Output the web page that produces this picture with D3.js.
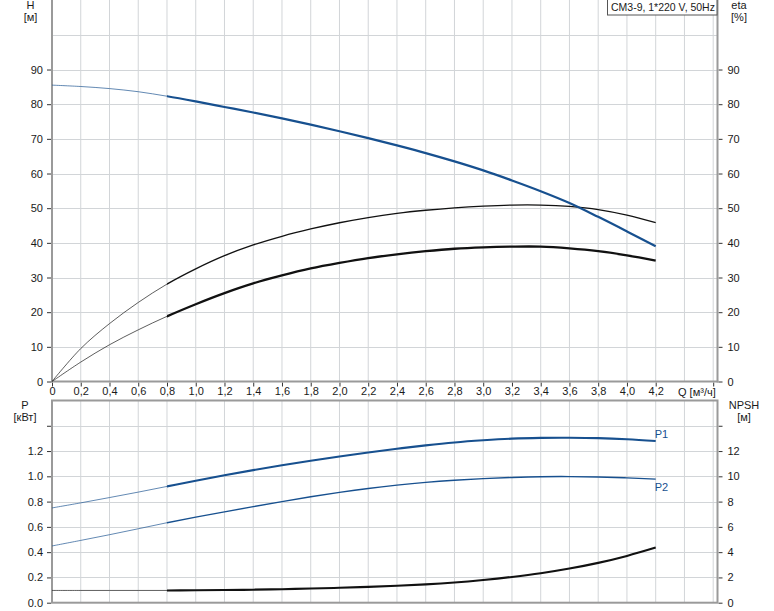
<!DOCTYPE html>
<html>
<head>
<meta charset="utf-8">
<script src="https://cdn.jsdelivr.net/npm/d3@7/dist/d3.min.js"></script>
<style>
  html, body { margin: 0; padding: 0; background: #fff; }
  svg { display: block; }
  text { font-family: "Liberation Sans", Arial, sans-serif; font-size: 11px; fill: #1a1a1a; }
</style>
</head>
<body>
<svg id="chart" width="774" height="611"></svg>
<script>
// ---------------- DATA ----------------
const flow = [0, 0.2, 0.4, 0.6, 0.8, 1.0, 1.2, 1.4, 1.6, 1.8, 2.0, 2.2, 2.4, 2.6, 2.8, 3.0, 3.2, 3.4, 3.6, 3.8, 4.0, 4.2];
const head = [85.5, 85.1, 84.5, 83.6, 82.3, 80.8, 79.2, 77.6, 75.9, 74.1, 72.2, 70.2, 68.1, 65.9, 63.5, 60.9, 58.0, 54.9, 51.5, 47.5, 43.3, 39.0];
const etaHydraulic = [0, 9.5, 16.7, 22.8, 28.1, 32.5, 36.3, 39.4, 41.9, 44.0, 45.8, 47.3, 48.5, 49.4, 50.1, 50.6, 50.9, 50.9, 50.5, 49.6, 48.0, 45.8];
const etaTotal = [0, 5.6, 10.6, 14.9, 18.8, 22.3, 25.5, 28.3, 30.6, 32.6, 34.2, 35.6, 36.7, 37.6, 38.3, 38.7, 38.9, 38.9, 38.4, 37.6, 36.4, 34.9];
const powerP1 = [0.750, 0.790, 0.832, 0.875, 0.920, 0.965, 1.008, 1.049, 1.087, 1.123, 1.157, 1.189, 1.218, 1.245, 1.268, 1.285, 1.298, 1.304, 1.305, 1.302, 1.293, 1.279];
const powerP2 = [0.449, 0.493, 0.538, 0.585, 0.633, 0.677, 0.719, 0.760, 0.800, 0.838, 0.873, 0.904, 0.930, 0.952, 0.969, 0.982, 0.991, 0.997, 0.998, 0.995, 0.988, 0.978];
const npsh = [0.97, 0.97, 0.97, 0.97, 0.97, 0.98, 1.00, 1.03, 1.07, 1.12, 1.18, 1.25, 1.34, 1.45, 1.60, 1.80, 2.04, 2.33, 2.70, 3.15, 3.70, 4.36];
const dutyStart = 0.8;

const qTicks = [0, 0.2, 0.4, 0.6, 0.8, 1.0, 1.2, 1.4, 1.6, 1.8, 2.0, 2.2, 2.4, 2.6, 2.8, 3.0, 3.2, 3.4, 3.6, 3.8, 4.0, 4.2];
const qGrid = [0.2, 0.4, 0.6, 0.8, 1.0, 1.2, 1.4, 1.6, 1.8, 2.0, 2.2, 2.4, 2.6, 2.8, 3.0, 3.2, 3.4, 3.6, 3.8, 4.0, 4.2, 4.4, 4.6];
const hTicks = [0, 10, 20, 30, 40, 50, 60, 70, 80, 90];
const hGrid = [10, 20, 30, 40, 50, 60, 70, 80, 90, 100];
const pTicks = [0, 0.2, 0.4, 0.6, 0.8, 1.0, 1.2, 1.4];
const pGrid = [0.2, 0.4, 0.6, 0.8, 1.0, 1.2, 1.4];
const npshTicks = [0, 2, 4, 6, 8, 10, 12, 14];
const titleText = "CM3-9, 1*220 V, 50Hz";

// ---------------- LAYOUT ----------------
const svg = d3.select("#chart");
const L = 52, R = 717.5;
const topY0 = 381.5, topY1 = 0.2;
const botY0 = 602.7, botY1 = 400.5;
const blue = "#17508f";
const gridCol = "#d2d5d8";
const axisCol = "#9a9a9a";

const x = d3.scaleLinear().domain([0, 4.63]).range([L, R]);
const yH = d3.scaleLinear().domain([0, 110]).range([topY0, topY1]);
const yP = d3.scaleLinear().domain([0, 1.6]).range([botY0, botY1]);
const yN = d3.scaleLinear().domain([0, 16]).range([botY0, botY1]);

svg.append("rect").attr("width", 774).attr("height", 611).attr("fill", "#fff");

const defs = svg.append("defs");
defs.append("clipPath").attr("id", "clipThin").append("rect")
  .attr("x", 0).attr("y", 0).attr("width", x(dutyStart)).attr("height", 611);
defs.append("clipPath").attr("id", "clipThick").append("rect")
  .attr("x", x(dutyStart)).attr("y", 0).attr("width", 774 - x(dutyStart)).attr("height", 611);

// grids
const g = svg.append("g");
g.selectAll("line").data(qGrid).join("line")
  .attr("x1", d => x(d)).attr("x2", d => x(d)).attr("y1", 0).attr("y2", topY0)
  .attr("stroke", gridCol).attr("stroke-width", 1);
const g1 = svg.append("g");
g1.selectAll("line").data(hGrid).join("line")
  .attr("x1", L).attr("x2", R).attr("y1", d => Math.round(yH(d)) + 0.5).attr("y2", d => Math.round(yH(d)) + 0.5)
  .attr("stroke", gridCol).attr("stroke-width", 1);
const g2 = svg.append("g");
g2.selectAll("line").data(qGrid).join("line")
  .attr("x1", d => x(d)).attr("x2", d => x(d)).attr("y1", botY1).attr("y2", botY0)
  .attr("stroke", gridCol).attr("stroke-width", 1);
const g3 = svg.append("g");
g3.selectAll("line").data(pGrid).join("line")
  .attr("x1", L).attr("x2", R).attr("y1", d => Math.round(yP(d)) + 0.5).attr("y2", d => Math.round(yP(d)) + 0.5)
  .attr("stroke", gridCol).attr("stroke-width", 1);

// axes (ticks and labels)
function styleAxis(sel) {
  sel.select(".domain").remove();
  sel.selectAll(".tick line").attr("stroke", "#333");
  sel.selectAll(".tick text").style("font-family", '"Liberation Sans", Arial, sans-serif').style("font-size", "11px").attr("fill", "#1a1a1a");
}
const fmtQ = d => d === 0 ? "0" : d3.format(".1f")(d).replace(".", ",");

svg.append("g").attr("transform", `translate(${L - 1},0)`)
  .call(d3.axisLeft(yH).tickValues(hTicks).tickSize(4).tickPadding(4).tickFormat(d3.format("d")))
  .call(styleAxis);
svg.append("g").attr("transform", `translate(${R + 1},0)`)
  .call(d3.axisRight(yH).tickValues(hTicks).tickSize(4).tickPadding(5).tickFormat(d3.format("d")))
  .call(styleAxis);
svg.append("g").attr("transform", `translate(0,${topY0 + 1})`)
  .call(d3.axisBottom(x).tickValues(qTicks.concat([4.6])).tickSize(4).tickPadding(1).tickFormat(d => d > 4.5 ? "" : fmtQ(d)))
  .call(styleAxis);
svg.append("g").attr("transform", `translate(${L - 1},0)`)
  .call(d3.axisLeft(yP).tickValues(pTicks).tickSize(4).tickPadding(4).tickFormat(d => d > 1.3 ? "" : d3.format(".1f")(d)))
  .call(styleAxis);
svg.append("g").attr("transform", `translate(${R + 1},0)`)
  .call(d3.axisRight(yN).tickValues(npshTicks).tickSize(4).tickPadding(5).tickFormat(d => d > 13 ? "" : d3.format("d")(d)))
  .call(styleAxis);

// axis lines
const ax = svg.append("g").attr("stroke", axisCol).attr("stroke-width", 2).attr("fill", "none");
ax.append("line").attr("x1", L).attr("x2", L).attr("y1", 0).attr("y2", topY0 + 1);
ax.append("line").attr("x1", R).attr("x2", R).attr("y1", 0).attr("y2", topY0 + 1);
ax.append("line").attr("x1", L - 1).attr("x2", R + 1).attr("y1", topY0).attr("y2", topY0);
ax.append("rect").attr("x", L).attr("y", botY1).attr("width", R - L).attr("height", botY0 - botY1);

// curves
const rows = flow.map((q, i) => ({ q, h: head[i], e1: etaHydraulic[i], e2: etaTotal[i], p1: powerP1[i], p2: powerP2[i], n: npsh[i] }));
function drawCurve(key, yScale, color, wThick) {
  const line = d3.line().x(r => x(r.q)).y(r => yScale(r[key])).curve(d3.curveCatmullRom.alpha(0.5));
  const d = line(rows);
  svg.append("path").attr("d", d).attr("clip-path", "url(#clipThin)").attr("fill", "none")
    .attr("stroke", color).attr("stroke-width", 0.8).attr("stroke-opacity", 0.85);
  svg.append("path").attr("d", d).attr("clip-path", "url(#clipThick)").attr("fill", "none")
    .attr("stroke", color).attr("stroke-width", wThick).attr("stroke-linejoin", "round");
}
drawCurve("e1", yH, "#111", 1.3);
drawCurve("e2", yH, "#111", 2.3);
drawCurve("h", yH, blue, 2.2);
drawCurve("p2", yP, blue, 1.4);
drawCurve("p1", yP, blue, 2.1);
drawCurve("n", yN, "#111", 2.1);

// curve labels
const last = rows[rows.length - 1];
svg.append("text").attr("x", x(last.q) - 1).attr("y", yP(last.p1) - 3).text("P1").style("fill", blue);
svg.append("text").attr("x", x(last.q) - 1).attr("y", yP(last.p2) + 12).text("P2").style("fill", blue);

// axis titles
function label(xp, yp, t, anchor) {
  svg.append("text").attr("x", xp).attr("y", yp).attr("text-anchor", anchor || "middle").text(t);
}
label(30.5, 9, "H");
label(30.5, 21, "[м]");
label(739, 9, "eta");
label(739, 21, "[%]");
label(25, 409, "P");
label(25, 421, "[кВт]");
label(744, 409, "NPSH");
label(744, 421, "[м]");
svg.append("text").attr("x", 678).attr("y", 396).text("Q [м³/ч]");

// title box
const tb = svg.append("g");
tb.append("rect").attr("x", 607.5).attr("y", -1).attr("width", 109.5).attr("height", 16)
  .attr("fill", "#fff").attr("stroke", "#555").attr("stroke-width", 1);
const tt = tb.append("text").attr("x", 611).attr("y", 11).text(titleText);
const w = tt.node().getComputedTextLength();
if (w > 104) tt.style("font-size", (11 * 104 / w).toFixed(2) + "px");
</script>
</body>
</html>
